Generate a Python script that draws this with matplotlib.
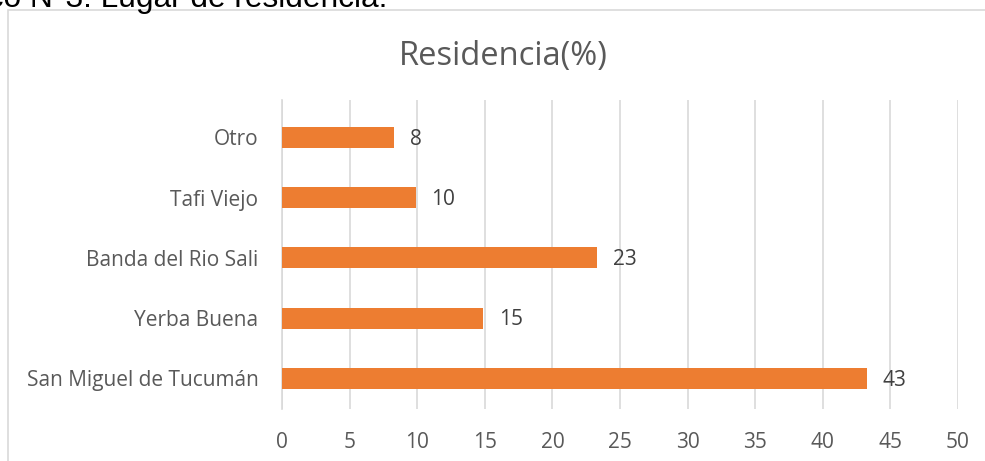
import matplotlib
matplotlib.use("Agg")
import matplotlib.pyplot as plt
from matplotlib.patches import Rectangle

categories = ["San Miguel de Tucumán", "Yerba Buena", "Banda del Rio Sali", "Tafi Viejo", "Otro"]
values = [43.3, 14.9, 23.3, 9.9, 8.3]
labels = ["43", "15", "23", "10", "8"]
xticks = [0, 5, 10, 15, 20, 25, 30, 35, 40, 45, 50]
title = "Residencia(%)"
caption = "Gráfico N°3: Lugar de residencia."

W, H = 985, 461
fig = plt.figure(figsize=(W / 100, H / 100), dpi=100)
plt.rcParams['font.family'] = ['Open Sans', 'DejaVu Sans']

# outer border (chart area)
fig.patches.append(Rectangle((8 / W, -0.1), 1.2, (H - 10) / H + 0.1, transform=fig.transFigure,
                             fill=False, edgecolor="#D9D9D9", linewidth=1.2))

# caption at top, cropped by the picture edge as in the reference
fig.text(387 / W, 1 - 7.5 / H, caption, ha="right", va="baseline", fontsize=22.8,
         family=["Liberation Sans", "DejaVu Sans"], color="black")

ax = fig.add_axes([282 / W, 1 - 408.5 / H, (958 - 282) / W, (408.5 - 100) / H])
y = list(range(len(categories)))
ax.barh(y, values, height=0.35, color="#ED7D31", zorder=3)
for yi, v, lab in zip(y, values, labels):
    ax.text(v + 1.15, yi - 0.03, lab, va="center", ha="left", fontsize=15, color="#404040")

ax.set_xlim(0, 50)
ax.set_ylim(-0.5, 4.62)
ax.set_xticks(xticks)
ax.set_xticklabels([str(t) for t in xticks])
ax.set_yticks(y)
ax.set_yticklabels(categories)
ax.tick_params(axis="both", length=0, labelsize=15, labelcolor="#595959")
ax.tick_params(axis="x", pad=17)
ax.tick_params(axis="y", pad=17)
ax.grid(axis="x", color="#D9D9D9", linewidth=1.2, zorder=0)
for s in ["top", "right", "bottom"]:
    ax.spines[s].set_visible(False)
ax.spines["left"].set_color("#D9D9D9")
ax.spines["left"].set_linewidth(1.2)

fig.text(503 / W, 1 - 65 / H, title, ha="center", va="baseline", fontsize=23.5, color="#595959")

fig.savefig("out.png", dpi=100)
